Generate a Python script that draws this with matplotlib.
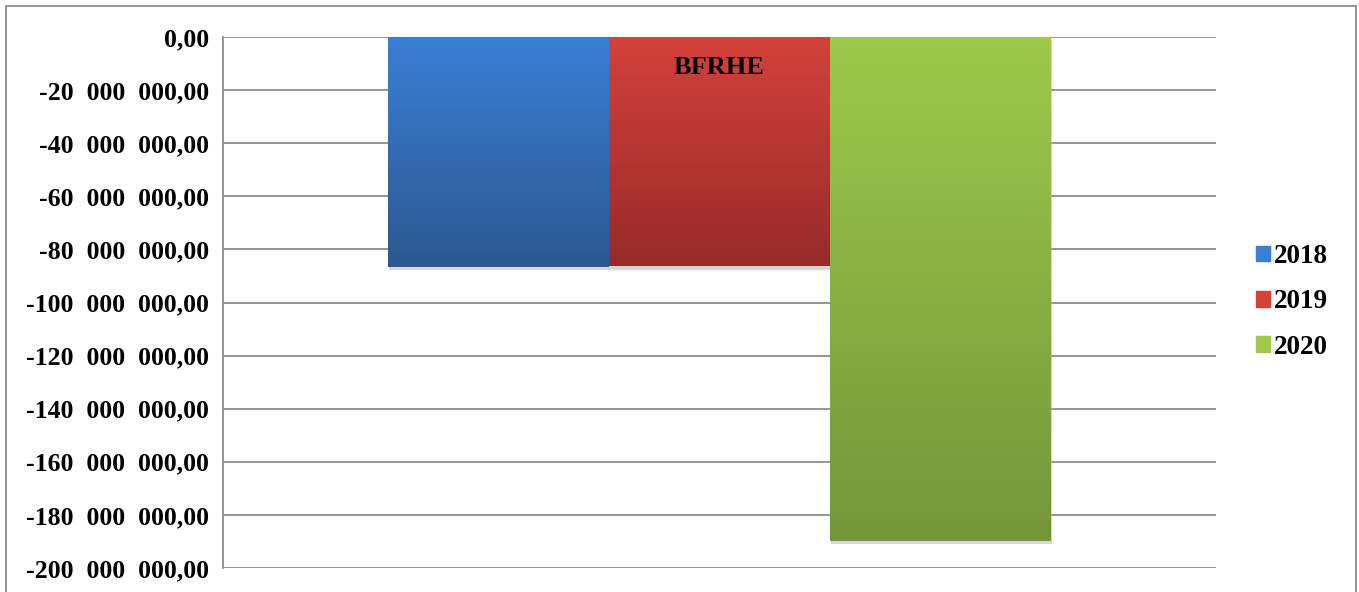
import numpy as np
import matplotlib.pyplot as plt
from matplotlib.patches import Rectangle
from matplotlib.ticker import FuncFormatter, MultipleLocator
import matplotlib.patheffects as pe

category = "BFRHE"
years = ["2018", "2019", "2020"]
values = [-86_600_000, -86_300_000, -189_800_000]

# top / bottom colours of each bar gradient
tops = ["#3b7fd4", "#d4413b", "#9ec94b"]
bottoms = ["#2b5890", "#982a2a", "#74963a"]

plt.rcParams["font.family"] = ["Liberation Serif", "DejaVu Serif"]
plt.rcParams["font.weight"] = "bold"


def fmt(v, pos):
    if v == 0:
        return "0,00"
    s = f"{abs(v):,.0f}".replace(",", "  ")
    return ("-" if v < 0 else "") + s + ",00"


fig = plt.figure(figsize=(13.59, 5.92), dpi=100)
ax = fig.add_axes([223 / 1359, 1 - 568 / 592, (1216 - 223) / 1359, (568 - 37) / 592])

# outer frame
fig.patches.append(Rectangle((6 / 1359, -0.01), 1350 / 1359, 1 - 6 / 592 + 0.01,
                             transform=fig.transFigure, fill=False,
                             edgecolor="#8c8c8c", lw=1.3))

width = 221 / 993
x = np.array([-1, 0, 1]) * width
bars = ax.bar(x, values, width=width, color=tops, edgecolor="none", zorder=3,
              path_effects=[pe.SimplePatchShadow(offset=(0.5, -2.5), shadow_rgbFace="#b0b0b0", alpha=0.5),
                            pe.Normal()])

grad = np.linspace(0, 1, 256).reshape(-1, 1)
for b, c0, c1 in zip(bars, tops, bottoms):
    c0 = np.array(plt.matplotlib.colors.to_rgb(c0))
    c1 = np.array(plt.matplotlib.colors.to_rgb(c1))
    img = c0 + (c1 - c0) * grad[:, :, None]
    x0, w, h = b.get_x(), b.get_width(), b.get_height()
    im = ax.imshow(img, extent=(x0, x0 + w, h, 0), aspect="auto", zorder=4)
    im.set_clip_path(b)

ax.set_xlim(-0.5, 0.5)
ax.set_ylim(-200_000_000, 0)
ax.yaxis.set_major_locator(MultipleLocator(20_000_000))
ax.yaxis.set_major_formatter(FuncFormatter(fmt))
ax.grid(axis="y", color="#8c8c8c", lw=1.3, zorder=0)
ax.set_axisbelow(True)
for s in ["top", "right", "bottom"]:
    ax.spines[s].set_visible(False)
ax.spines["left"].set_color("#8c8c8c")
ax.spines["left"].set_linewidth(1.3)
ax.tick_params(axis="y", length=0, pad=10, labelsize=18.5)
ax.tick_params(axis="x", length=0)
ax.set_xticks([])
ax.text(0, -11_500_000, category, ha="center", va="center", fontsize=19,
        fontweight="bold", zorder=5)

handles = [Rectangle((0, 0), 1, 1, color=c) for c in tops]
fig.legend(handles, years, loc="center left", bbox_to_anchor=(1256 / 1359, 1 - 302 / 592),
           frameon=False, fontsize=19.5, handlelength=0.5, handleheight=0.5,
           handletextpad=0.15, labelspacing=0.75, borderpad=0, borderaxespad=0)

fig.savefig("out.png", dpi=100)
